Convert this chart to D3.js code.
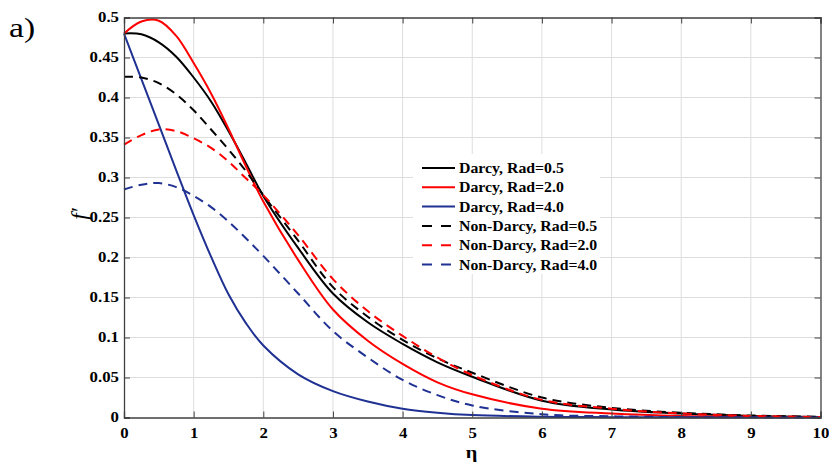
<!DOCTYPE html>
<html>
<head>
<meta charset="utf-8">
<script src="https://cdn.jsdelivr.net/npm/d3@7"></script>
<style>
  body { margin: 0; background: #fff; }
  svg { display: block; }
  .tick text { font-family: "Liberation Serif", "Times New Roman", serif; font-weight: bold; font-size: 14px; fill: #000; }
</style>
</head>
<body>
<svg id="chart" width="829" height="463"></svg>
<script>
// eta sample points
const eta = [0, 0.25, 0.5, 0.75, 1, 1.25, 1.5, 1.75, 2, 2.5, 3, 3.5, 4, 4.5, 5, 6, 7, 8, 9, 10]

const darcy05 = [0.480, 0.479, 0.469, 0.451, 0.425, 0.395, 0.358, 0.318, 0.277, 0.212, 0.155, 0.119, 0.092, 0.069, 0.051, 0.021, 0.010, 0.005, 0.002, 0.0005]
const darcy20 = [0.480, 0.495, 0.496, 0.477, 0.443, 0.405, 0.361, 0.314, 0.270, 0.197, 0.135, 0.096, 0.067, 0.044, 0.029, 0.011, 0.005, 0.002, 0.001, 0.0003]
const darcy40 = [0.480, 0.423, 0.366, 0.309, 0.253, 0.201, 0.154, 0.118, 0.090, 0.054, 0.033, 0.020, 0.011, 0.006, 0.003, 0.001, 0.0004, 0.0002, 0.0001, 0]
const nonDarcy05 = [0.426, 0.425, 0.418, 0.404, 0.384, 0.360, 0.335, 0.308, 0.278, 0.221, 0.163, 0.126, 0.097, 0.074, 0.056, 0.025, 0.012, 0.006, 0.0025, 0.001]
const nonDarcy20 = [0.341, 0.353, 0.360, 0.358, 0.349, 0.337, 0.320, 0.299, 0.278, 0.228, 0.173, 0.133, 0.102, 0.075, 0.053, 0.022, 0.011, 0.005, 0.002, 0.0005]
const nonDarcy40 = [0.285, 0.291, 0.293, 0.288, 0.277, 0.263, 0.245, 0.224, 0.202, 0.155, 0.108, 0.075, 0.047, 0.028, 0.015, 0.004, 0.0015, 0.0005, 0.0002, 0]

const seriesNames = ['Darcy, Rad=0.5', 'Darcy, Rad=2.0', 'Darcy, Rad=4.0',
                     'Non-Darcy, Rad=0.5', 'Non-Darcy, Rad=2.0', 'Non-Darcy, Rad=4.0']
const seriesValues = [darcy05, darcy20, darcy40, nonDarcy05, nonDarcy20, nonDarcy40]
const seriesColors = ['#000000', '#ff0000', '#1f3192', '#000000', '#ff0000', '#1f3192']
const seriesDashed = [false, false, false, true, true, true]

const xTicks = d3.range(0, 11, 1)
const yTicks = [0, 0.05, 0.1, 0.15, 0.2, 0.25, 0.3, 0.35, 0.4, 0.45, 0.5]

const margin = { left: 124, right: 8.5, top: 17.5, bottom: 45.5 }
const width = 829, height = 463
const stretch = 1.2   // the original figure text is a bit wide
const legStretch = 1.13
const svg = d3.select('#chart')

const x = d3.scaleLinear().domain([0, 10]).range([margin.left, width - margin.right])
const y = d3.scaleLinear().domain([0, 0.5]).range([height - margin.bottom, margin.top])

// grid
const grid = svg.append('g')
grid.selectAll('line.gx').data(xTicks.slice(1, -1)).enter().append('line')
    .attr('x1', d => x(d)).attr('x2', d => x(d))
    .attr('y1', y(0)).attr('y2', y(0.5))
    .attr('stroke', '#dedede').attr('stroke-width', 1)
grid.selectAll('line.gy').data(yTicks.slice(1, -1)).enter().append('line')
    .attr('x1', x(0)).attr('x2', x(10))
    .attr('y1', d => y(d)).attr('y2', d => y(d))
    .attr('stroke', '#dedede').attr('stroke-width', 1)

// legend background hides the grid behind it
const legX = 413, legY = 154, legW = 187, legH = 120
svg.append('rect').attr('x', legX).attr('y', legY).attr('width', legW).attr('height', legH).attr('fill', '#fff')

// curves
const line = d3.line()
    .x((d, i) => x(eta[i]))
    .y(d => y(d))
    .curve(d3.curveCatmullRom.alpha(0.5))

svg.append('g').selectAll('path').data(seriesValues).enter().append('path')
    .attr('d', d => line(d))
    .attr('fill', 'none')
    .attr('stroke', (d, i) => seriesColors[i])
    .attr('stroke-width', 2)
    .attr('stroke-dasharray', (d, i) => seriesDashed[i] ? '9,6' : null)

// axes (box with inward ticks)
const axisColor = '#404040'
const gBottom = svg.append('g').attr('transform', 'translate(0,' + y(0) + ')')
    .call(d3.axisBottom(x).tickValues(xTicks).tickSize(-6).tickPadding(11).tickFormat(d3.format('d')))
const gLeft = svg.append('g').attr('transform', 'translate(' + x(0) + ',0)')
    .call(d3.axisLeft(y).tickValues(yTicks).tickSize(-6).tickFormat(d => d === 0 ? '0' : String(d)))
const gTop = svg.append('g').attr('transform', 'translate(0,' + y(0.5) + ')')
    .call(d3.axisTop(x).tickValues(xTicks).tickSize(-6).tickFormat(''))
const gRight = svg.append('g').attr('transform', 'translate(' + x(10) + ',0)')
    .call(d3.axisRight(y).tickValues(yTicks).tickSize(-6).tickFormat(''))
;[gBottom, gLeft, gTop, gRight].forEach(g => {
    g.select('.domain').attr('stroke', axisColor).attr('stroke-width', 1.3)
    g.selectAll('.tick line').attr('stroke', axisColor)
})
gBottom.selectAll('.tick text').attr('dy', '0.71em').attr('transform', 'scale(' + stretch + ',1)')
gLeft.selectAll('.tick text').attr('x', -5 / stretch).attr('transform', 'scale(' + stretch + ',1)')

// legend
const leg = svg.append('g')
seriesNames.forEach((name, i) => {
    const ry = 168 + i * 19.3
    leg.append('line')
        .attr('x1', legX + 9).attr('x2', legX + 42)
        .attr('y1', ry).attr('y2', ry)
        .attr('stroke', seriesColors[i]).attr('stroke-width', 2)
        .attr('stroke-dasharray', seriesDashed[i] ? '10,9' : null)
    leg.append('text')
        .attr('transform', 'translate(' + (legX + 46) + ',' + (ry + 5) + ') scale(' + legStretch + ',1)')
        .style('font-family', '"Liberation Serif", "Times New Roman", serif')
        .style('font-weight', 'bold').style('font-size', '14px')
        .text(name)
})

// labels
svg.append('text').attr('transform', 'translate(471.5,458) scale(' + stretch + ',1)')
    .attr('text-anchor', 'middle')
    .style('font-family', '"Liberation Serif", serif').style('font-weight', 'bold').style('font-size', '17px')
    .text('η')
svg.append('text').attr('transform', 'translate(87,214) rotate(-90)')
    .attr('text-anchor', 'middle')
    .style('font-family', '"Liberation Serif", serif').style('font-style', 'italic').style('font-size', '23px')
    .text('f′')
svg.append('text').attr('transform', 'translate(9,37) scale(' + stretch + ',1)')
    .style('font-family', '"Liberation Serif", serif').style('font-size', '28px')
    .text('a)')
</script>
</body>
</html>
